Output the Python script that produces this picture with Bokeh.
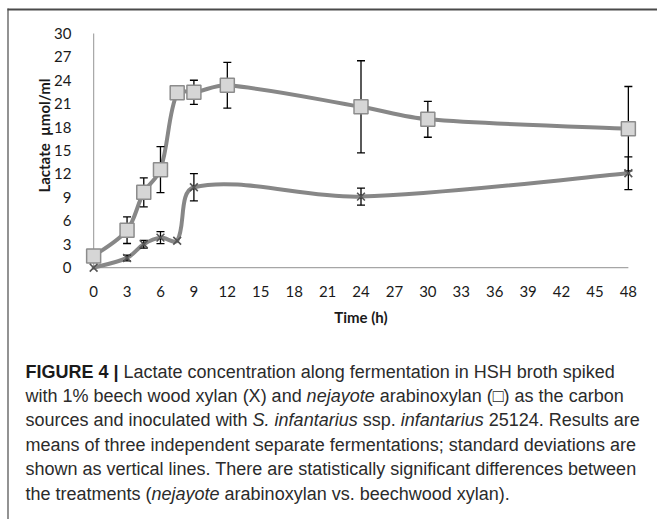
import numpy as np
from bokeh.plotting import figure
from bokeh.models import Range1d, FixedTicker
from bokeh.embed import file_html
from bokeh.resources import INLINE
from bokeh.core.properties import value

# ---------------- data ----------------
time_nejayote = [0, 3, 4.5, 6, 7.5, 9, 12, 24, 30, 48]
lactate_nejayote = [1.5, 4.8, 9.65, 12.55, 22.4, 22.45, 23.35, 20.6, 19.0, 17.8]
sd_nejayote = [0, 1.7, 1.85, 2.95, 0, 1.55, 2.93, 5.9, 2.3, 5.4]

time_beech = [0, 3, 4.5, 6, 7.5, 9, 24, 48]
lactate_beech = [0, 1.25, 3.0, 3.85, 3.45, 10.3, 9.1, 12.1]
sd_beech = [0, 0.37, 0.5, 0.78, 0, 1.75, 1.1, 2.1]

x_ticks = list(range(0, 49, 3))
y_ticks = list(range(0, 31, 3))

x_title = "Time (h)"
y_title = "Lactate\u00a0 µmol/ml"

caption_lines = [
    [("FIGURE 4 |", "bold"), (" Lactate concentration along fermentation in HSH broth spiked", "normal")],
    [("with 1% beech wood xylan (X) and ", "normal"), ("nejayote", "italic"),
     (" arabinoxylan (\u25a1) as the carbon", "normal")],
    [("sources and inoculated with ", "normal"), ("S. infantarius", "italic"), (" ssp. ", "normal"),
     ("infantarius", "italic"), (" 25124. Results are", "normal")],
    [("means of three independent separate fermentations; standard deviations are", "normal")],
    [("shown as vertical lines. There are statistically significant differences between", "normal")],
    [("the treatments (", "normal"), ("nejayote", "italic"), (" arabinoxylan vs. beechwood xylan).", "normal")],
]

# ---------------- figure geometry (page pixels) ----------------
W, H = 657, 519
XR = (-1.0, 49.0)
YR = (-1.0, 30.5)
BL, BT = 82, 29
frame_w, frame_h = 557, 246
BR = W - BL - frame_w
BB = H - BT - frame_h
sx = frame_w / (XR[1] - XR[0])
sy = frame_h / (YR[1] - YR[0])

p = figure(width=W, height=H, output_backend="svg", toolbar_location=None,
           x_range=Range1d(*XR), y_range=Range1d(*YR),
           min_border_left=BL, min_border_right=BR, min_border_top=BT, min_border_bottom=BB)
p.outline_line_color = None
p.xgrid.visible = False
p.ygrid.visible = False
p.background_fill_color = "white"
p.border_fill_color = "white"

# pixel-based ranges for decorations and caption
p.extra_x_ranges = {"px": Range1d(BL, BL + frame_w)}
p.extra_y_ranges = {"px": Range1d(BT + frame_h, BT)}

for ax in (p.xaxis[0], p.yaxis[0]):
    ax.axis_line_color = None
    ax.major_tick_line_color = None
    ax.minor_tick_line_color = None
    ax.major_label_text_font = "Lato"
    ax.major_label_text_font_size = "15px"
    ax.major_label_text_color = "#1a1a1a"
    ax.axis_label_text_font = "Lato"
    ax.axis_label_text_font_size = "15px"
    ax.axis_label_text_font_style = "bold"
    ax.axis_label_text_color = "#1a1a1a"

p.xaxis.ticker = FixedTicker(ticks=x_ticks)
p.yaxis.ticker = FixedTicker(ticks=y_ticks)
p.xaxis.major_label_standoff = 4
p.yaxis.major_label_standoff = 5
p.xaxis.axis_label = x_title
p.xaxis.axis_label_standoff = 8

# y axis title placed as rotated text
p.text(x=[43], y=[135], text=[y_title], angle=np.pi / 2, text_font=value("Lato"),
       text_font_style="bold", text_font_size="15px", text_color="#1a1a1a",
       text_align="center", text_baseline="middle",
       x_range_name="px", y_range_name="px", level="overlay")

# axis lines drawn at the data origin
axis_col = "#a6a6a6"
p.segment(x0=[min(x_ticks)], y0=[0], x1=[max(x_ticks)], y1=[0], line_color=axis_col, line_width=1.2)
p.segment(x0=[0], y0=[min(y_ticks)], x1=[0], y1=[max(y_ticks)], line_color=axis_col, line_width=1.2)


def smooth(xs, ys):
    """Bezier control points (Excel-like smoothed line) in screen-proportional space."""
    P = np.column_stack([np.asarray(xs, float) * sx, np.asarray(ys, float) * sy])
    n = len(P)
    d = [float(np.hypot(*(P[i + 1] - P[i]))) for i in range(n - 1)]
    out = {k: [] for k in ("x0", "y0", "x1", "y1", "cx0", "cy0", "cx1", "cy1")}
    for i in range(n - 1):
        p1, p2 = P[i], P[i + 1]
        if i == 0:
            c1 = p1 + (p2 - p1) / 6
        else:
            c1 = p1 + (p2 - P[i - 1]) * d[i] / (d[i - 1] + d[i]) / 3
        if i == n - 2:
            c2 = p2 - (p2 - p1) / 6
        else:
            c2 = p2 - (P[i + 2] - p1) * d[i] / (d[i] + d[i + 1]) / 3
        out["x0"].append(p1[0] / sx); out["y0"].append(p1[1] / sy)
        out["x1"].append(p2[0] / sx); out["y1"].append(p2[1] / sy)
        out["cx0"].append(c1[0] / sx); out["cy0"].append(c1[1] / sy)
        out["cx1"].append(c2[0] / sx); out["cy1"].append(c2[1] / sy)
    return out


line_col = "#878787"
for xs, ys in ((time_beech, lactate_beech), (time_nejayote, lactate_nejayote)):
    s = smooth(xs, ys)
    p.bezier(x0=s["x0"], y0=s["y0"], x1=s["x1"], y1=s["y1"],
             cx0=s["cx0"], cy0=s["cy0"], cx1=s["cx1"], cy1=s["cy1"],
             line_color=line_col, line_width=4, line_cap="round", line_join="round")


def error_bars(xs, ys, sds):
    bx = [x for x, sd in zip(xs, sds) if sd > 0]
    lo = [y - sd for y, sd in zip(ys, sds) if sd > 0]
    hi = [y + sd for y, sd in zip(ys, sds) if sd > 0]
    p.segment(x0=bx, y0=lo, x1=bx, y1=hi, line_color="black", line_width=1.3)
    p.scatter(x=bx + bx, y=lo + hi, marker="dash", size=8, line_color="black", line_width=1.3)


error_bars(time_nejayote, lactate_nejayote, sd_nejayote)
error_bars(time_beech, lactate_beech, sd_beech)

p.scatter(x=time_nejayote, y=lactate_nejayote, marker="square", size=14,
          fill_color="#d6d6d6", line_color="#8c8c8c", line_width=1.5)
p.scatter(x=time_beech, y=lactate_beech, marker="x", size=11,
          line_color="#555555", line_width=1.6)

# ---------------- frame lines of the figure box ----------------
p.segment(x0=[7], y0=[9], x1=[W], y1=[9], line_color="#4a4a4a", line_width=2,
          x_range_name="px", y_range_name="px", level="overlay")
p.segment(x0=[7.5], y0=[8], x1=[7.5], y1=[H], line_color="#4a4a4a", line_width=1.2,
          x_range_name="px", y_range_name="px", level="overlay")

# ---------------- caption ----------------
reg = {' ': 278, '!': 278, '%': 889, '(': 333, ')': 333, ',': 278, '-': 333, '.': 278, '/': 278,
       ';': 278, ':': 278, '|': 260, '\u25a1': 600}
for ch in "0123456789":
    reg[ch] = 556
reg.update(dict(zip("ABCDEFGHIJKLMNOPQRSTUVWXYZ",
                    [667, 667, 722, 722, 667, 611, 778, 722, 278, 500, 667, 556, 833, 722, 778, 667, 778,
                     722, 667, 611, 722, 667, 944, 667, 667, 611])))
reg.update(dict(zip("abcdefghijklmnopqrstuvwxyz",
                    [556, 556, 500, 556, 556, 278, 556, 556, 222, 222, 500, 222, 833, 556, 556, 556, 556,
                     333, 500, 278, 556, 500, 722, 500, 500, 500])))
bold = dict(reg)
bold.update({'F': 611, 'I': 278, 'G': 778, 'U': 722, 'R': 722, 'E': 667, '|': 280, ' ': 278})


def em_width(s, style):
    tbl = bold if style == "bold" else reg
    return sum(tbl.get(c, 556) for c in s) / 1000.0


FS = 18.0
CAP_X0 = 25
line_y = [371, 395, 419.5, 444, 468.5, 493]

groups = {"normal": ([], [], []), "bold": ([], [], []), "italic": ([], [], [])}
for ly, parts in zip(line_y, caption_lines):
    xpos = CAP_X0
    for txt, style in parts:
        core = txt.lstrip(" ")
        xpos += em_width(txt[:len(txt) - len(core)], style) * FS
        gx, gy, gt = groups[style]
        gx.append(xpos); gy.append(ly); gt.append(core.rstrip(" "))
        xpos += em_width(core, style) * FS

for style, (gx, gy, gt) in groups.items():
    if not gx:
        continue
    p.text(x=gx, y=gy, text=gt, text_font=value("Liberation Sans"),
           text_font_style=style, text_font_size=f"{FS}px",
           text_color="#2b2b2b" if style != "bold" else "#1a1a1a",
           text_baseline="middle", text_align="left",
           x_range_name="px", y_range_name="px", level="overlay")

with open("out.html", "w") as f:
    f.write(file_html(p, INLINE))
